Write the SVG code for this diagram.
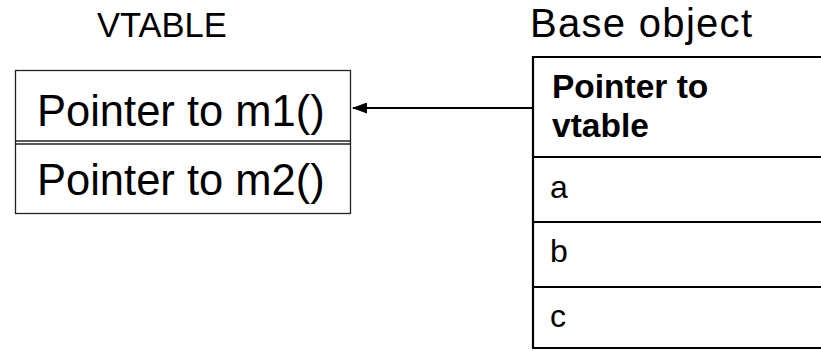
<svg xmlns="http://www.w3.org/2000/svg" width="821" height="351" viewBox="0 0 821 351">
  <style>
    text { font-family: "Liberation Sans", Arial, sans-serif; fill: #000; }
    .title { font-size: 34.5px; }
    .caption { font-size: 40px; letter-spacing: 1.3px; }
    .slot { font-size: 43.5px; }
    .field { font-size: 32px; }
    .head { font-size: 33.5px; font-weight: bold; }
    .thin { fill: none; stroke: #222; stroke-width: 1.3; }
    .thick { fill: none; stroke: #000; stroke-width: 2.2; }
  </style>
  <defs>
    <marker id="arrow" viewBox="0 0 15 11" refX="14" refY="5.5" markerWidth="15" markerHeight="11" markerUnits="userSpaceOnUse" orient="auto">
      <path d="M0,0 L15,5.5 L0,11 Z" fill="#000"/>
    </marker>
  </defs>

  <rect width="821" height="351" fill="#fff"/>

  <!-- virtual method table -->
  <g id="vtable">
    <text class="title" x="97" y="37">VTABLE</text>
    <rect class="thin" x="15.5" y="70.5" width="335" height="143"/>
    <line class="thin" x1="15.5" y1="141" x2="350.5" y2="141"/>
    <line class="thin" x1="15.5" y1="144" x2="350.5" y2="144"/>
    <text class="slot" x="37" y="126">Pointer to m1()</text>
    <text class="slot" x="37" y="195">Pointer to m2()</text>
  </g>

  <!-- object layout -->
  <g id="base-object">
    <text class="caption" x="530" y="37">Base object</text>
    <path class="thick" d="M822,57 H533 V348 H822"/>
    <line class="thick" x1="533" y1="157" x2="822" y2="157"/>
    <line class="thick" x1="533" y1="222" x2="822" y2="222"/>
    <line class="thick" x1="533" y1="287" x2="822" y2="287"/>
    <text class="head" x="552" y="98">Pointer to</text>
    <text class="head" x="552" y="137">vtable</text>
    <text class="field" x="550" y="198">a</text>
    <text class="field" x="550" y="262">b</text>
    <text class="field" x="550" y="327">c</text>
  </g>

  <!-- connectors -->
  <g id="connectors">
    <line x1="533" y1="108" x2="353" y2="108" stroke="#000" stroke-width="2" marker-end="url(#arrow)"/>
  </g>
</svg>
